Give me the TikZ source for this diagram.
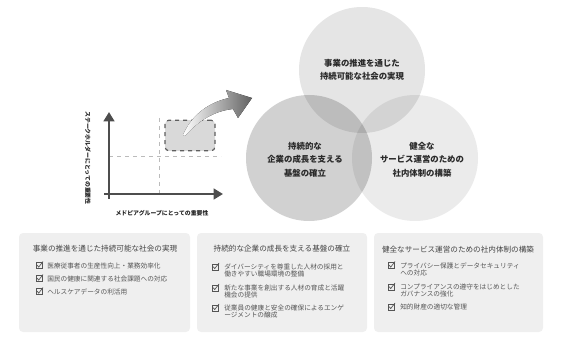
\documentclass[tikz,border=0pt]{standalone}
\usepackage{fontspec}
\setmainfont{Noto Sans CJK JP}
\usetikzlibrary{arrows.meta}
\definecolor{axisc}{HTML}{4D4D4D}
\definecolor{boxgray}{HTML}{EFEFEF}
\definecolor{titlegray}{HTML}{444444}
\definecolor{itemgray}{HTML}{555555}
\definecolor{circtextc}{HTML}{2A2A2A}
\definecolor{dashc}{HTML}{BBBBBB}
\definecolor{rectfill}{HTML}{D9D9D9}
\begin{document}
\begin{tikzpicture}[x=0.75pt,y=-0.75pt,
  boxbg/.style={fill=boxgray, rounded corners=3pt},
  boxtitle/.style={font=\fontsize{5.7}{7}\selectfont, text=titlegray, inner sep=0},
  itemtext/.style={font=\fontsize{5}{5.6}\selectfont, text=itemgray, inner sep=0, anchor=west, align=left},
  circtext/.style={font=\fontsize{6.3}{10.2}\selectfont\bfseries, align=center, inner sep=0, text=circtextc},
  axislabel/.style={font=\fontsize{4.4}{5}\selectfont\bfseries, inner sep=0, text=black!85},
  axisline/.style={draw=axisc, line width=2.2pt, -{Triangle[width=8pt,length=7pt]}},
  guide/.style={draw=dashc, dashed, line width=0.6pt},
  chk/.pic={\draw[itemgray, line width=0.45pt] (-3,-3) rectangle (3,3);
            \draw[itemgray, line width=0.5pt] (-1.8,-0.3) -- (-0.3,1.6) -- (4,-4);}
]
\useasboundingbox (0,0) rectangle (563,345);

% ---------- chart ----------
\coordinate (vtop) at (159,118);
\coordinate (vbot) at (159,197);
\coordinate (hl) at (109,156);
\coordinate (hr) at (221,156);
\draw[guide] (vtop) -- (vbot);
\draw[guide] (hl) -- (hr);
\node[draw=axisc!90, dashed, line width=0.9pt, fill=rectfill, rounded corners=3pt,
      minimum width=37.5pt, minimum height=23pt, inner sep=0] (focus) at (190,135.5) {};
\coordinate (yb) at (109,199);
\coordinate (yt) at (109,112);
\coordinate (xl) at (104,194);
\coordinate (xr) at (223,194);
\draw[axisline] (yb) -- (yt);
\draw[axisline] (xl) -- (xr);
\node[axislabel, rotate=-90] (ylab) at (88,158) {ステークホルダーにとっての重要性};
\node[axislabel] (xlab) at (162,213) {メドピアグループにとっての重要性};

% curved arrow
\fill[left color=white, right color=black!62]
  (183,135) .. controls (192,114) and (210,102) .. (229,98)
  -- (226,90) -- (252,98) -- (238,118) -- (233,109)
  .. controls (214,111) and (198,121) .. (185,136) -- cycle;

% ---------- circles ----------
\coordinate (ctop) at (362,70);
\coordinate (cleft) at (309,158);
\coordinate (cright) at (415,158);
\fill[black, fill opacity=0.10] (ctop) circle[radius=47.25pt];
\fill[black, fill opacity=0.18] (cleft) circle[radius=47.25pt];
\fill[black, fill opacity=0.08] (cright) circle[radius=47.25pt];
\node[circtext] (ttop) at (362,70) {事業の推進を通じた\\持続可能な社会の実現};
\node[circtext] (tleft) at (305,159.5) {持続的な\\企業の成長を支える\\基盤の確立};
\node[circtext] (tright) at (422,159.5) {健全な\\サービス運営のための\\社内体制の構築};

% ---------- boxes ----------
\path[boxbg] (19,233) rectangle (190,332);
\path[boxbg] (197,233) rectangle (367,332);
\path[boxbg] (374,233) rectangle (543,332);

\node[boxtitle] (t1) at (105,249) {事業の推進を通じた持続可能な社会の実現};
\node[boxtitle] (t2) at (282,249) {持続的な企業の成長を支える基盤の確立};
\node[boxtitle] (t3) at (458,250) {健全なサービス運営のための社内体制の構築};

% box 1
\pic at (39,265.5) {chk};
\node[itemtext] (i11) at (47,265.5) {医療従事者の生産性向上・業務効率化};
\pic at (39,278.5) {chk};
\node[itemtext] (i12) at (47,278.5) {国民の健康に関連する社会課題への対応};
\pic at (39,291.5) {chk};
\node[itemtext] (i13) at (47,291.5) {ヘルスケアデータの利活用};

% box 2
\pic at (215,267) {chk};
\node[itemtext] (i21) at (224,270.7) {ダイバーシティを尊重した人材の採用と\\働きやすい職場環境の整備};
\pic at (215,288) {chk};
\node[itemtext] (i22) at (224,291.7) {新たな事業を創出する人材の育成と活躍\\機会の提供};
\pic at (215,308) {chk};
\node[itemtext] (i23) at (224,311.7) {従業員の健康と安全の確保によるエンゲ\\ージメントの醸成};

% box 3
\pic at (391,265.5) {chk};
\node[itemtext] (i31) at (400,269.2) {プライバシー保護とデータセキュリティ\\への対応};
\pic at (391,287) {chk};
\node[itemtext] (i32) at (400,290.7) {コンプライアンスの遵守をはじめとした\\ガバナンスの強化};
\pic at (391,307) {chk};
\node[itemtext] (i33) at (400,307) {知的財産の適切な管理};
\end{tikzpicture}
\end{document}
